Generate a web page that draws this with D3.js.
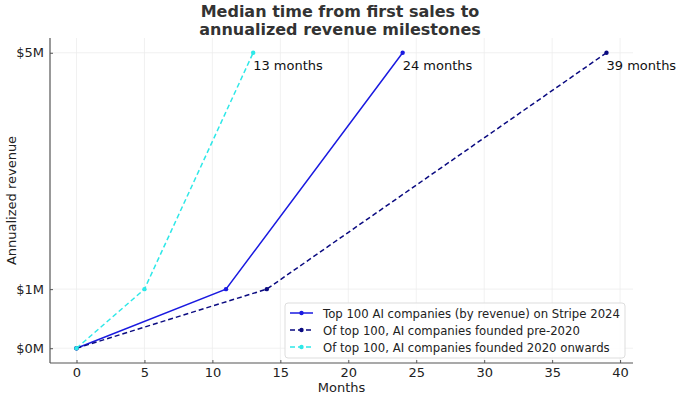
<!DOCTYPE html>
<html><head><meta charset="utf-8">
<script src="https://cdn.jsdelivr.net/npm/d3@7"></script>
<style>body{margin:0;background:#fff}svg{display:block;font-family:"DejaVu Sans",sans-serif}</style>
</head><body><svg id="c" width="680" height="399"></svg>
<script>
const seriesNames = ["Top 100 AI companies (by revenue) on Stripe 2024","Of top 100, AI companies founded pre-2020","Of top 100, AI companies founded 2020 onwards"];
const allMonths = [0, 11, 24];
const allRevenue = [0, 1, 5];
const preMonths = [0, 14, 39];
const preRevenue = [0, 1, 5];
const postMonths = [0, 5, 13];
const postRevenue = [0, 1, 5];
const xTicks = [0,5,10,15,20,25,30,35,40];
const yTicks = [0,1,5];
const yTickLabels = ["$0M","$1M","$5M"];
const annotations = ["13 months","24 months","39 months"];

const series = [
  {name:seriesNames[0], m:allMonths, r:allRevenue, color:"#1a1ae0", dash:null, note:annotations[1]},
  {name:seriesNames[1], m:preMonths, r:preRevenue, color:"#0a0a80", dash:"5,3", note:annotations[2]},
  {name:seriesNames[2], m:postMonths, r:postRevenue, color:"#2ee8e8", dash:"5,3", note:annotations[0]}
];

const svg = d3.select("#c");
const L=50, R=633, T=38, B=363;
const x = d3.scaleLinear().domain([-1.95,40.95]).range([L,R]);
const y = d3.scaleLinear().domain([-0.25,5.25]).range([B,T]);

// grid
svg.append("g").selectAll("line").data(xTicks).join("line")
  .attr("x1",d=>x(d)).attr("x2",d=>x(d)).attr("y1",T).attr("y2",B)
  .attr("stroke","#eee").attr("stroke-width",0.8);
svg.append("g").selectAll("line").data(yTicks).join("line")
  .attr("x1",L).attr("x2",R).attr("y1",d=>y(d)).attr("y2",d=>y(d))
  .attr("stroke","#eee").attr("stroke-width",0.8);

// axes
const xAxis = d3.axisBottom(x).tickValues(xTicks).tickSizeInner(-3).tickSizeOuter(0).tickPadding(5);
const gx = svg.append("g").attr("transform",`translate(0,${B})`).call(xAxis);
const yAxis = d3.axisLeft(y).tickValues(yTicks).tickFormat((d,i)=>yTickLabels[i]).tickSizeInner(-3).tickSizeOuter(0).tickPadding(6);
const gy = svg.append("g").attr("transform",`translate(${L},0)`).call(yAxis);
[gx,gy].forEach(g=>{
  g.select(".domain").attr("stroke","#555").attr("stroke-width",1.2);
  g.selectAll(".tick line").attr("stroke","#555");
  g.selectAll(".tick text").attr("font-size",13).attr("fill","#222").attr("font-family","DejaVu Sans");
});
gx.select(".domain").attr("d",`M${L},0H${R}`);
gy.select(".domain").attr("d",`M0,${T}V${B}`);

// lines
const line = d3.line().x(d=>x(d[0])).y(d=>y(d[1]));
series.forEach(s=>{
  const pts = s.m.map((m,i)=>[m,s.r[i]]);
  svg.append("path").datum(pts).attr("d",line).attr("fill","none")
    .attr("stroke",s.color).attr("stroke-width",1.5).attr("stroke-dasharray",s.dash);
  svg.append("g").selectAll("circle").data(pts).join("circle")
    .attr("cx",d=>x(d[0])).attr("cy",d=>y(d[1])).attr("r",2.2).attr("fill",s.color);
  const last = pts[pts.length-1];
  svg.append("text").attr("x",x(last[0])).attr("y",y(last[1])+17)
    .attr("font-size",13).attr("fill","#111").text(s.note);
});

// title
svg.append("text").attr("x",340).attr("y",17).attr("text-anchor","middle")
  .attr("font-size",16).attr("font-weight","bold").attr("fill","#333").text("Median time from first sales to");
svg.append("text").attr("x",340).attr("y",35).attr("text-anchor","middle")
  .attr("font-size",16).attr("font-weight","bold").attr("fill","#333").text("annualized revenue milestones");

// axis labels
svg.append("text").attr("x",(L+R)/2).attr("y",392).attr("text-anchor","middle")
  .attr("font-size",13).attr("fill","#222").text("Months");
svg.append("text").attr("transform",`translate(16,${(T+B)/2}) rotate(-90)`).attr("text-anchor","middle")
  .attr("font-size",13).attr("fill","#222").text("Annualized revenue");

// legend
const lg = svg.append("g").attr("transform","translate(285,303)");
lg.append("rect").attr("width",340).attr("height",55).attr("rx",3)
  .attr("fill","#fff").attr("fill-opacity",0.85).attr("stroke","#ddd");
series.forEach((s,i)=>{
  const yy = 10 + i*17;
  lg.append("line").attr("x1",5).attr("x2",28).attr("y1",yy).attr("y2",yy)
    .attr("stroke",s.color).attr("stroke-width",1.5).attr("stroke-dasharray",s.dash);
  lg.append("circle").attr("cx",16.5).attr("cy",yy).attr("r",2.2).attr("fill",s.color);
  lg.append("text").attr("x",38).attr("y",yy+4.5).attr("font-size",11.7).attr("fill","#222").text(s.name);
});
</script></body></html>
